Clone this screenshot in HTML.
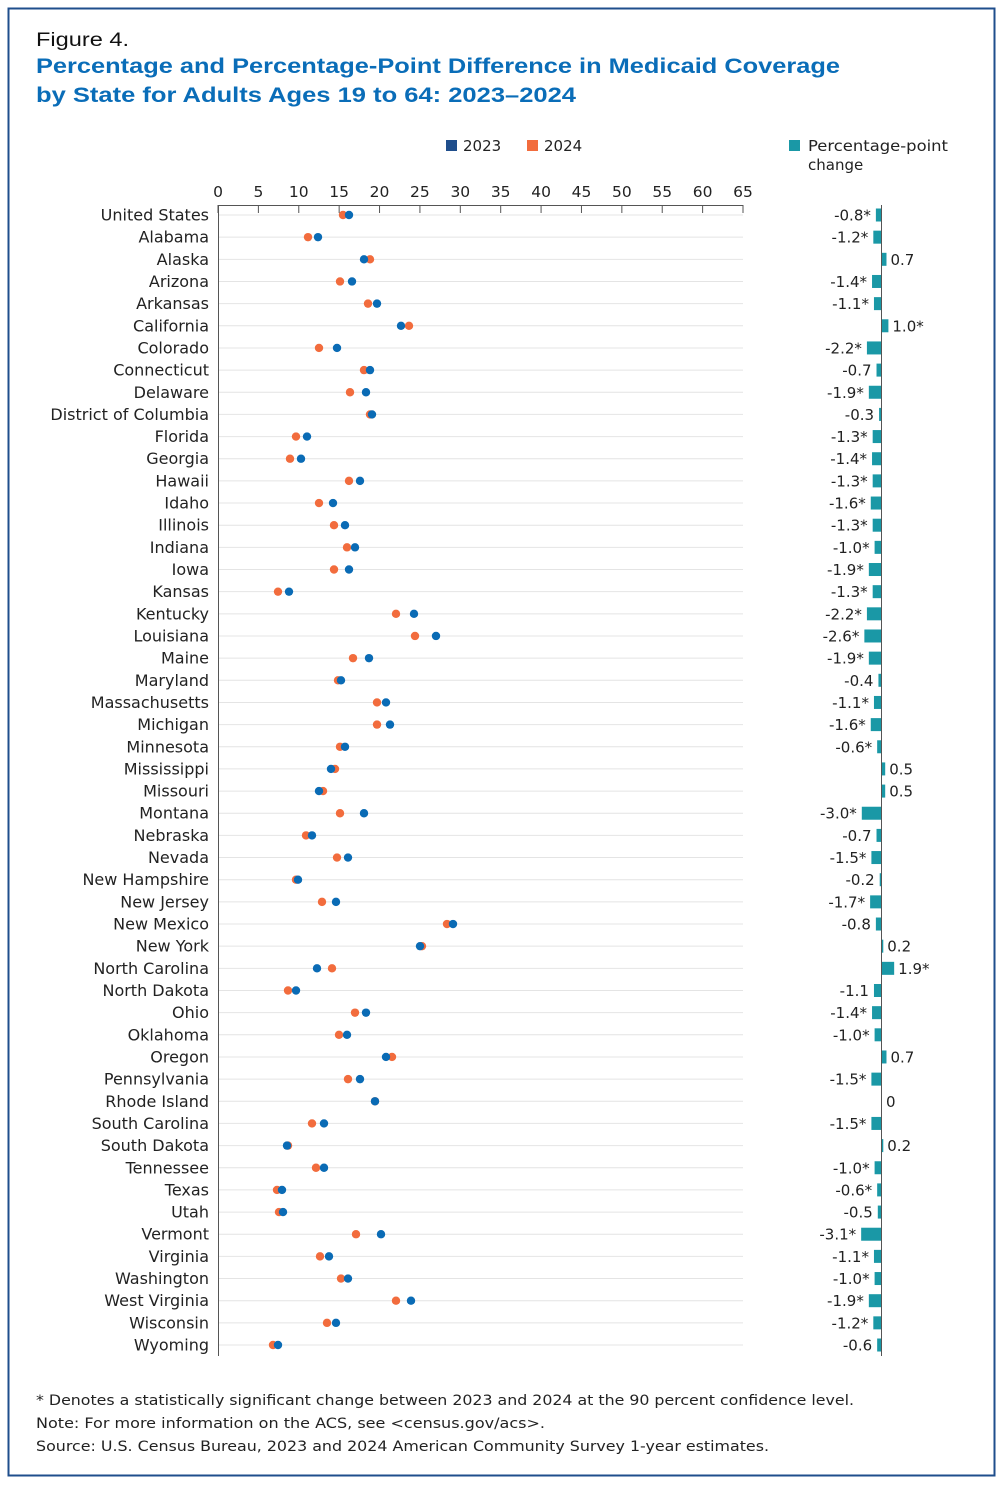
<!DOCTYPE html><html><head><meta charset="utf-8"><style>
body{margin:0;background:#fff;font-family:"DejaVu Sans",sans-serif}
</style></head><body>
<svg id="s" width="1000" height="1485" xmlns="http://www.w3.org/2000/svg" font-family="DejaVu Sans, sans-serif">
<rect x="8.5" y="8.5" width="986" height="1467" fill="none" stroke="#1f4e8c" stroke-width="2"/>
<text x="36" y="46" font-size="19" fill="#111" font-family="Liberation Sans, sans-serif" textLength="93" lengthAdjust="spacingAndGlyphs">Figure 4.</text>
<text x="36" y="73" font-size="21" font-weight="bold" fill="#0a6db8" font-family="Liberation Sans, sans-serif" textLength="804" lengthAdjust="spacingAndGlyphs">Percentage and Percentage-Point Difference in Medicaid Coverage</text>
<text x="36" y="102" font-size="21" font-weight="bold" fill="#0a6db8" font-family="Liberation Sans, sans-serif" textLength="540" lengthAdjust="spacingAndGlyphs">by State for Adults Ages 19 to 64: 2023–2024</text>
<rect x="446" y="140" width="11" height="11" fill="#1f4e8c"/><text x="463" y="151" font-size="15" fill="#222">2023</text>
<rect x="527" y="140" width="11" height="11" fill="#f26c3d"/><text x="544" y="151" font-size="15" fill="#222">2024</text>
<rect x="789" y="140" width="11" height="11" fill="#1a98a6"/><text x="808" y="151" font-size="15" fill="#222" textLength="140" lengthAdjust="spacingAndGlyphs">Percentage-point</text><text x="808" y="170" font-size="15" fill="#222">change</text>
<g id="g"></g>
<text x="36" y="1405" font-size="14.5" fill="#222" textLength="818" lengthAdjust="spacingAndGlyphs">* Denotes a statistically significant change between 2023 and 2024 at the 90 percent confidence level.</text>
<text x="36" y="1428" font-size="14.5" fill="#222" textLength="509" lengthAdjust="spacingAndGlyphs">Note: For more information on the ACS, see &lt;census.gov/acs&gt;.</text>
<text x="36" y="1451" font-size="14.5" fill="#222" textLength="733" lengthAdjust="spacingAndGlyphs">Source: U.S. Census Bureau, 2023 and 2024 American Community Survey 1-year estimates.</text>
</svg>
<script>
var d=[["United States",349,343,"-0.8*"],["Alabama",318,308,"-1.2*"],["Alaska",364,370,"0.7"],["Arizona",352,340,"-1.4*"],["Arkansas",377,368,"-1.1*"],["California",401,409,"1.0*"],["Colorado",337,319,"-2.2*"],["Connecticut",370,364,"-0.7"],["Delaware",366,350,"-1.9*"],["District of Columbia",372,370,"-0.3"],["Florida",307,296,"-1.3*"],["Georgia",301,290,"-1.4*"],["Hawaii",360,349,"-1.3*"],["Idaho",333,319,"-1.6*"],["Illinois",345,334,"-1.3*"],["Indiana",355,347,"-1.0*"],["Iowa",349,334,"-1.9*"],["Kansas",289,278,"-1.3*"],["Kentucky",414,396,"-2.2*"],["Louisiana",436,415,"-2.6*"],["Maine",369,353,"-1.9*"],["Maryland",341,338,"-0.4"],["Massachusetts",386,377,"-1.1*"],["Michigan",390,377,"-1.6*"],["Minnesota",345,340,"-0.6*"],["Mississippi",331,335,"0.5"],["Missouri",319,323,"0.5"],["Montana",364,340,"-3.0*"],["Nebraska",312,306,"-0.7"],["Nevada",348,337,"-1.5*"],["New Hampshire",298,296,"-0.2"],["New Jersey",336,322,"-1.7*"],["New Mexico",453,447,"-0.8"],["New York",420,422,"0.2"],["North Carolina",317,332,"1.9*"],["North Dakota",296,288,"-1.1"],["Ohio",366,355,"-1.4*"],["Oklahoma",347,339,"-1.0*"],["Oregon",386,392,"0.7"],["Pennsylvania",360,348,"-1.5*"],["Rhode Island",375,375,"0"],["South Carolina",324,312,"-1.5*"],["South Dakota",287,288,"0.2"],["Tennessee",324,316,"-1.0*"],["Texas",282,277,"-0.6*"],["Utah",283,279,"-0.5"],["Vermont",381,356,"-3.1*"],["Virginia",329,320,"-1.1*"],["Washington",348,341,"-1.0*"],["West Virginia",411,396,"-1.9*"],["Wisconsin",336,327,"-1.2*"],["Wyoming",278,273,"-0.6"]];
var h='',x0=218,sc=525/65;
for(var v=0;v<=65;v+=5){var x=x0+v*sc;h+='<text x="'+x+'" y="197" font-size="15.5" fill="#222" text-anchor="middle">'+v+'</text>';h+='<line x1="'+x+'" y1="205" x2="'+x+'" y2="213" stroke="#555"/>';}
h+='<line x1="218" y1="205.5" x2="743" y2="205.5" stroke="#555"/><line x1="218.5" y1="205" x2="218.5" y2="1356" stroke="#555"/>';
h+='<line x1="881.5" y1="205" x2="881.5" y2="1356" stroke="#555"/>';
for(var i=0;i<d.length;i++){var y=215+i*22.157,r=d[i];
h+='<line x1="219" y1="'+y+'" x2="743" y2="'+y+'" stroke="#e4e4e4"/>';
h+='<text x="209" y="'+(y+5.5)+'" font-size="16" fill="#222" text-anchor="end">'+r[0]+'</text>';
h+='<circle cx="'+r[2]+'" cy="'+y+'" r="4.2" fill="#f26c3d"/><circle cx="'+r[1]+'" cy="'+y+'" r="4.2" fill="#0a6bb5"/>';
var v=parseFloat(r[3]),w=Math.abs(v)*6.4;
if(v<0){h+='<rect x="'+(881-w)+'" y="'+(y-6.5)+'" width="'+w+'" height="13" fill="#1a98a6"/><text x="'+(881-w-5)+'" y="'+(y+5.5)+'" font-size="15" fill="#222" text-anchor="end">'+r[3]+'</text>';}
else{h+='<rect x="882" y="'+(y-6.5)+'" width="'+w+'" height="13" fill="#1a98a6"/><text x="'+(886+w)+'" y="'+(y+5.5)+'" font-size="15" fill="#222">'+r[3]+'</text>';}
}
document.getElementById('g').innerHTML=h;
</script>
</body></html>
